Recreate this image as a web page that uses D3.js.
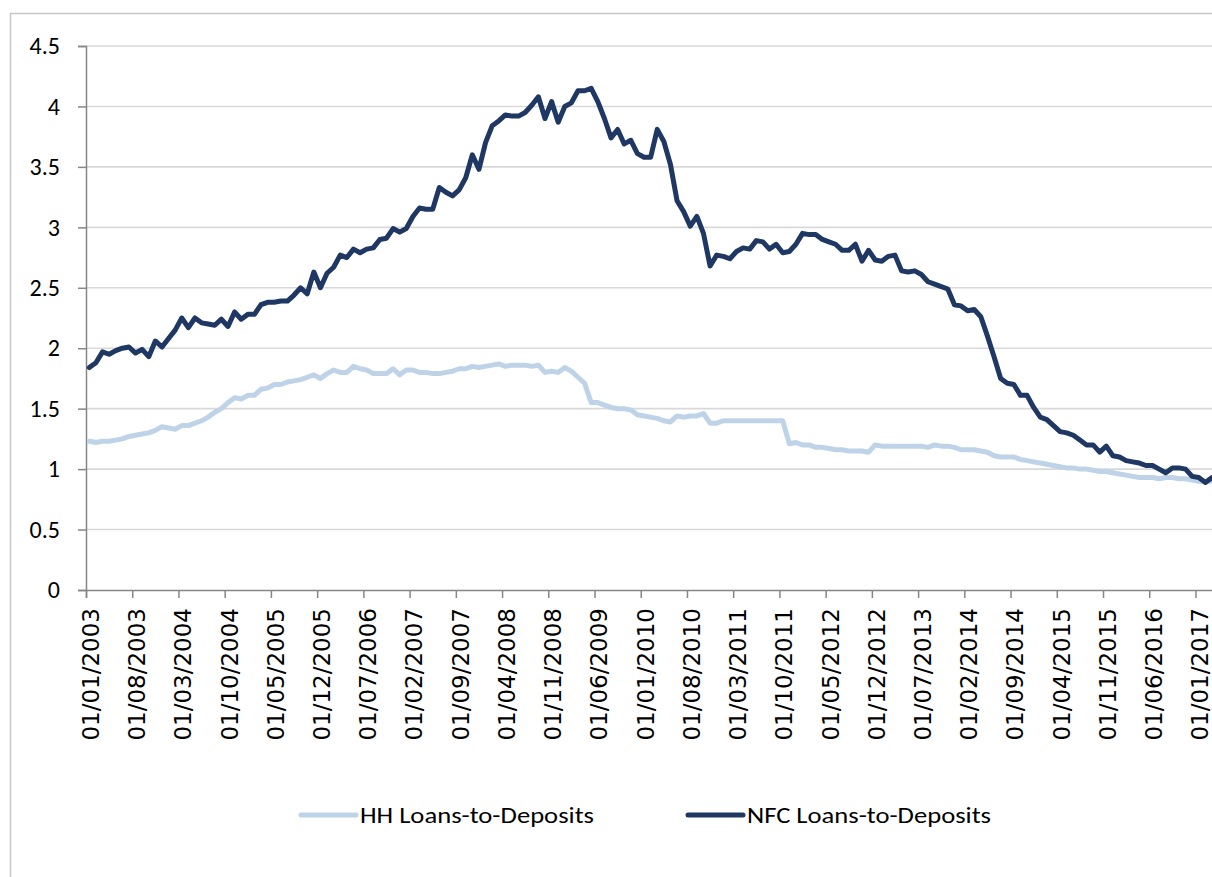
<!DOCTYPE html>
<html>
<head>
<meta charset="utf-8">
<script src="https://cdn.jsdelivr.net/npm/d3@7"></script>
<style>
  body { margin: 0; background: #fff; }
  svg { display: block; }
</style>
</head>
<body>
<div id="chart"></div>
<script>
// monthly categories, 01/01/2003 .. 01/03/2017
var months = d3.timeMonth.range(new Date(2003, 0, 1), new Date(2017, 3, 1));

var tickLabels = ["01/01/2003","01/08/2003","01/03/2004","01/10/2004","01/05/2005","01/12/2005",
  "01/07/2006","01/02/2007","01/09/2007","01/04/2008","01/11/2008","01/06/2009","01/01/2010",
  "01/08/2010","01/03/2011","01/10/2011","01/05/2012","01/12/2012","01/07/2013","01/02/2014",
  "01/09/2014","01/04/2015","01/11/2015","01/06/2016","01/01/2017"];

var yTicks = [0, 0.5, 1, 1.5, 2, 2.5, 3, 3.5, 4, 4.5];

var seriesNames = ["HH Loans-to-Deposits", "NFC Loans-to-Deposits"];

var hhValues = [
  1.23,1.22,1.23,1.23,1.24,1.25,1.27,1.28,1.29,1.30,
  1.32,1.35,1.34,1.33,1.36,1.36,1.38,1.40,1.43,1.47,
  1.50,1.55,1.59,1.58,1.61,1.61,1.66,1.67,1.70,1.70,
  1.72,1.73,1.74,1.76,1.78,1.75,1.79,1.82,1.80,1.80,
  1.85,1.83,1.82,1.79,1.79,1.79,1.83,1.78,1.82,1.82,
  1.80,1.80,1.79,1.79,1.80,1.81,1.83,1.83,1.85,1.84,
  1.85,1.86,1.87,1.85,1.86,1.86,1.86,1.85,1.86,1.80,
  1.81,1.80,1.84,1.81,1.76,1.71,1.55,1.55,1.53,1.51,
  1.50,1.50,1.49,1.45,1.44,1.43,1.42,1.40,1.39,1.44,
  1.43,1.44,1.44,1.46,1.38,1.38,1.40,1.40,1.40,1.40,
  1.40,1.40,1.40,1.40,1.40,1.40,1.21,1.22,1.20,1.20,
  1.18,1.18,1.17,1.16,1.16,1.15,1.15,1.15,1.14,1.20,
  1.19,1.19,1.19,1.19,1.19,1.19,1.19,1.18,1.20,1.19,
  1.19,1.18,1.16,1.16,1.16,1.15,1.14,1.11,1.10,1.10,
  1.10,1.08,1.07,1.06,1.05,1.04,1.03,1.02,1.01,1.01,
  1.00,1.00,0.99,0.98,0.98,0.97,0.96,0.95,0.94,0.93,
  0.93,0.93,0.92,0.93,0.93,0.92,0.92,0.91,0.90,0.90,
  0.90];

var nfcValues = [
  1.84,1.88,1.97,1.95,1.98,2.00,2.01,1.96,1.99,1.93,
  2.06,2.01,2.08,2.15,2.25,2.17,2.25,2.21,2.20,2.19,
  2.24,2.18,2.30,2.24,2.28,2.28,2.36,2.38,2.38,2.39,
  2.39,2.44,2.50,2.45,2.63,2.50,2.62,2.67,2.77,2.75,
  2.82,2.79,2.82,2.83,2.90,2.91,2.99,2.96,2.99,3.09,
  3.16,3.15,3.15,3.33,3.29,3.26,3.31,3.41,3.60,3.48,
  3.70,3.84,3.88,3.93,3.92,3.92,3.95,4.01,4.08,3.90,
  4.04,3.87,4.00,4.03,4.13,4.13,4.15,4.04,3.90,3.74,
  3.81,3.69,3.72,3.61,3.58,3.58,3.81,3.71,3.52,3.22,
  3.13,3.01,3.09,2.95,2.68,2.77,2.76,2.74,2.80,2.83,
  2.82,2.89,2.88,2.82,2.86,2.79,2.80,2.86,2.95,2.94,
  2.94,2.90,2.88,2.86,2.81,2.81,2.86,2.72,2.81,2.73,
  2.72,2.76,2.77,2.64,2.63,2.64,2.61,2.55,2.53,2.51,
  2.49,2.36,2.35,2.31,2.32,2.26,2.10,1.93,1.75,1.71,
  1.70,1.61,1.61,1.51,1.43,1.41,1.36,1.31,1.30,1.28,
  1.24,1.20,1.20,1.14,1.19,1.11,1.10,1.07,1.06,1.05,
  1.03,1.03,1.00,0.97,1.01,1.01,1.00,0.94,0.93,0.89,
  0.93];

var colors = ["#bed3e8", "#1f3763"];

var width = 1212, height = 877;
var plotLeft = 86, plotBottom = 590, plotTop = 46;
var step = 6.604;

var svg = d3.select("#chart").append("svg")
    .attr("width", width)
    .attr("height", height);

// chart frame
svg.append("rect")
    .attr("x", 10.5).attr("y", 13.5)
    .attr("width", 1300).attr("height", 1000)
    .attr("fill", "#fff")
    .attr("stroke", "#c6c6c6")
    .attr("stroke-width", 1.5);

var x = d3.scaleLinear()
    .domain([0, months.length])
    .range([plotLeft, plotLeft + months.length * step]);

var y = d3.scaleLinear()
    .domain([0, 4.5])
    .range([plotBottom, plotTop]);

// gridlines
svg.append("g")
    .selectAll("line")
    .data(yTicks.filter(function(d){ return d > 0; }))
    .enter()
    .append("line")
    .attr("x1", plotLeft)
    .attr("x2", x(months.length))
    .attr("y1", function(d){ return y(d); })
    .attr("y2", function(d){ return y(d); })
    .attr("stroke", "#d9d9d9")
    .attr("stroke-width", 1.6);

// y axis
var yAxis = svg.append("g")
    .attr("transform", "translate(" + plotLeft + ",0)")
    .call(d3.axisLeft(y).tickValues(yTicks).tickFormat(d3.format("")).tickSize(8).tickPadding(18));
yAxis.select(".domain").attr("stroke", "#868686").attr("stroke-width", 1.5);
yAxis.selectAll(".tick line").attr("stroke", "#868686").attr("stroke-width", 1.5);
yAxis.selectAll("text")
    .attr("fill", "#000")
    .style("font-family", "Carlito, Calibri, Lato, sans-serif")
    .style("font-size", "24px");

// x axis: ticks on category edges, labels centred on the category
var tickIdx = d3.range(0, months.length, 7);
var xAxis = svg.append("g")
    .attr("transform", "translate(0," + plotBottom + ")")
    .call(d3.axisBottom(x).tickValues(tickIdx).tickSize(8).tickFormat(function(d, i){ return tickLabels[i]; }));
xAxis.select(".domain").attr("stroke", "#868686").attr("stroke-width", 1.5);
xAxis.selectAll(".tick line").attr("stroke", "#868686").attr("stroke-width", 1.5);
xAxis.selectAll("text")
    .attr("fill", "#000")
    .attr("text-anchor", "end")
    .attr("dy", "0.35em")
    .attr("y", 0)
    .attr("transform", "translate(" + (step / 2 + 1) + ",18) rotate(-90)")
    .style("font-family", "'DejaVu Sans', sans-serif")
    .style("font-size", "23px");

// lines
var line = d3.line()
    .x(function(d, i){ return x(i + 0.5); })
    .y(function(d){ return y(d); });

[hhValues, nfcValues].forEach(function(vals, k){
  svg.append("path")
      .datum(vals)
      .attr("d", line)
      .attr("fill", "none")
      .attr("stroke", colors[k])
      .attr("stroke-width", 5)
      .attr("stroke-linejoin", "round")
      .attr("stroke-linecap", "round");
});

// legend
var legendX = [301, 688];
var legendW = [234, 244];
var legend = svg.append("g");
seriesNames.forEach(function(name, k){
  legend.append("line")
      .attr("x1", legendX[k]).attr("x2", legendX[k] + 55)
      .attr("y1", 815).attr("y2", 815)
      .attr("stroke", colors[k])
      .attr("stroke-width", 5)
      .attr("stroke-linecap", "round");
  legend.append("text")
      .attr("x", legendX[k] + 59)
      .attr("y", 823)
      .attr("textLength", legendW[k])
      .attr("lengthAdjust", "spacingAndGlyphs")
      .style("font-family", "Carlito, Calibri, Lato, sans-serif")
      .style("font-size", "23px")
      .text(name);
});
</script>
</body>
</html>
